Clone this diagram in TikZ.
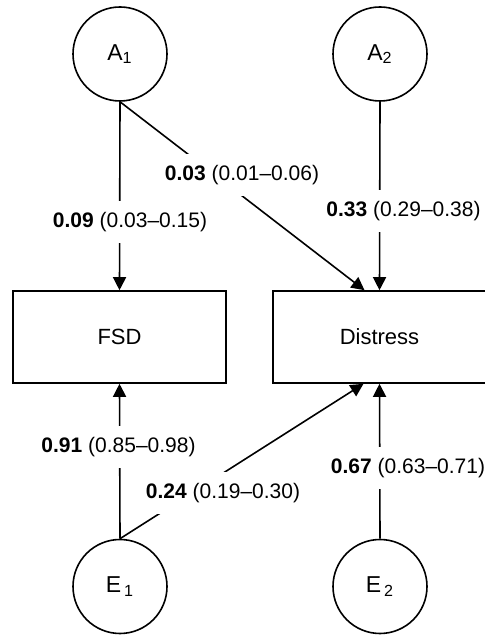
\documentclass[tikz,border=0pt]{standalone}
\usepackage{fontspec}
\setmainfont{Liberation Sans}
\usetikzlibrary{arrows.meta,positioning,calc}

\begin{document}
\begin{tikzpicture}[
  x=0.5pt, y=0.5pt,
  latent/.style={draw, circle, line width=0.8pt, minimum size=47pt,
    inner sep=0pt, font=\fontsize{11.5}{13}\selectfont},
  observed/.style={draw, rectangle, line width=0.8pt, minimum width=106.5pt,
    minimum height=46pt, font=\fontsize{11}{13}\selectfont},
  coef/.style={fill=white, inner xsep=2pt, inner ysep=5.5pt,
    font=\fontsize{10.5}{12}\selectfont},
  effect/.style={line width=0.8pt, -{Triangle[length=6.5pt,width=6.5pt]}},
]
  \useasboundingbox (0,0) rectangle (485,636);

  % Latent factors (top)
  \node[latent] (A1) at (120,582) {A\textsubscript{1}};
  \node[latent] (A2) at (380,582) {A\textsubscript{2}};

  % Observed variables
  \node[observed] (fsd) at (119.5,299) {FSD};
  \node[observed] (dist) at (379.5,299) {Distress};

  % Latent factors (bottom)
  \node[latent] (E1) at (120,49.5) {E\hspace{1.5pt}\textsubscript{1}};
  \node[latent] (E2) at (380,49.5) {E\hspace{1.5pt}\textsubscript{2}};

  % Paths
  \draw[effect] (A1.south) -- (fsd.north);
  \draw[effect] (A1.south) -- ($(dist.north)+(-15,0)$);
  \draw[effect] (A2.south) -- (dist.north);
  \draw[effect] (E1.north) -- (fsd.south);
  \draw[effect] (E1.north) -- ($(dist.south)+(-16,0)$);
  \draw[effect] (E2.north) -- (dist.south);

  % Path coefficients
  \node[coef] (a1fsd) at (130,414) {\textbf{0.09} (0.03--0.15)};
  \node[coef] (a1dist) at (242,461) {\textbf{0.03} (0.01--0.06)};
  \node[coef] (a2dist) at (403.5,425) {\textbf{0.33} (0.29--0.38)};
  \node[coef] (e1fsd) at (118.5,189) {\textbf{0.91} (0.85--0.98)};
  \node[coef] (e1dist) at (223,143) {\textbf{0.24} (0.19--0.30)};
  \node[coef] (e2dist) at (408,168) {\textbf{0.67} (0.63--0.71)};
\end{tikzpicture}
\end{document}
